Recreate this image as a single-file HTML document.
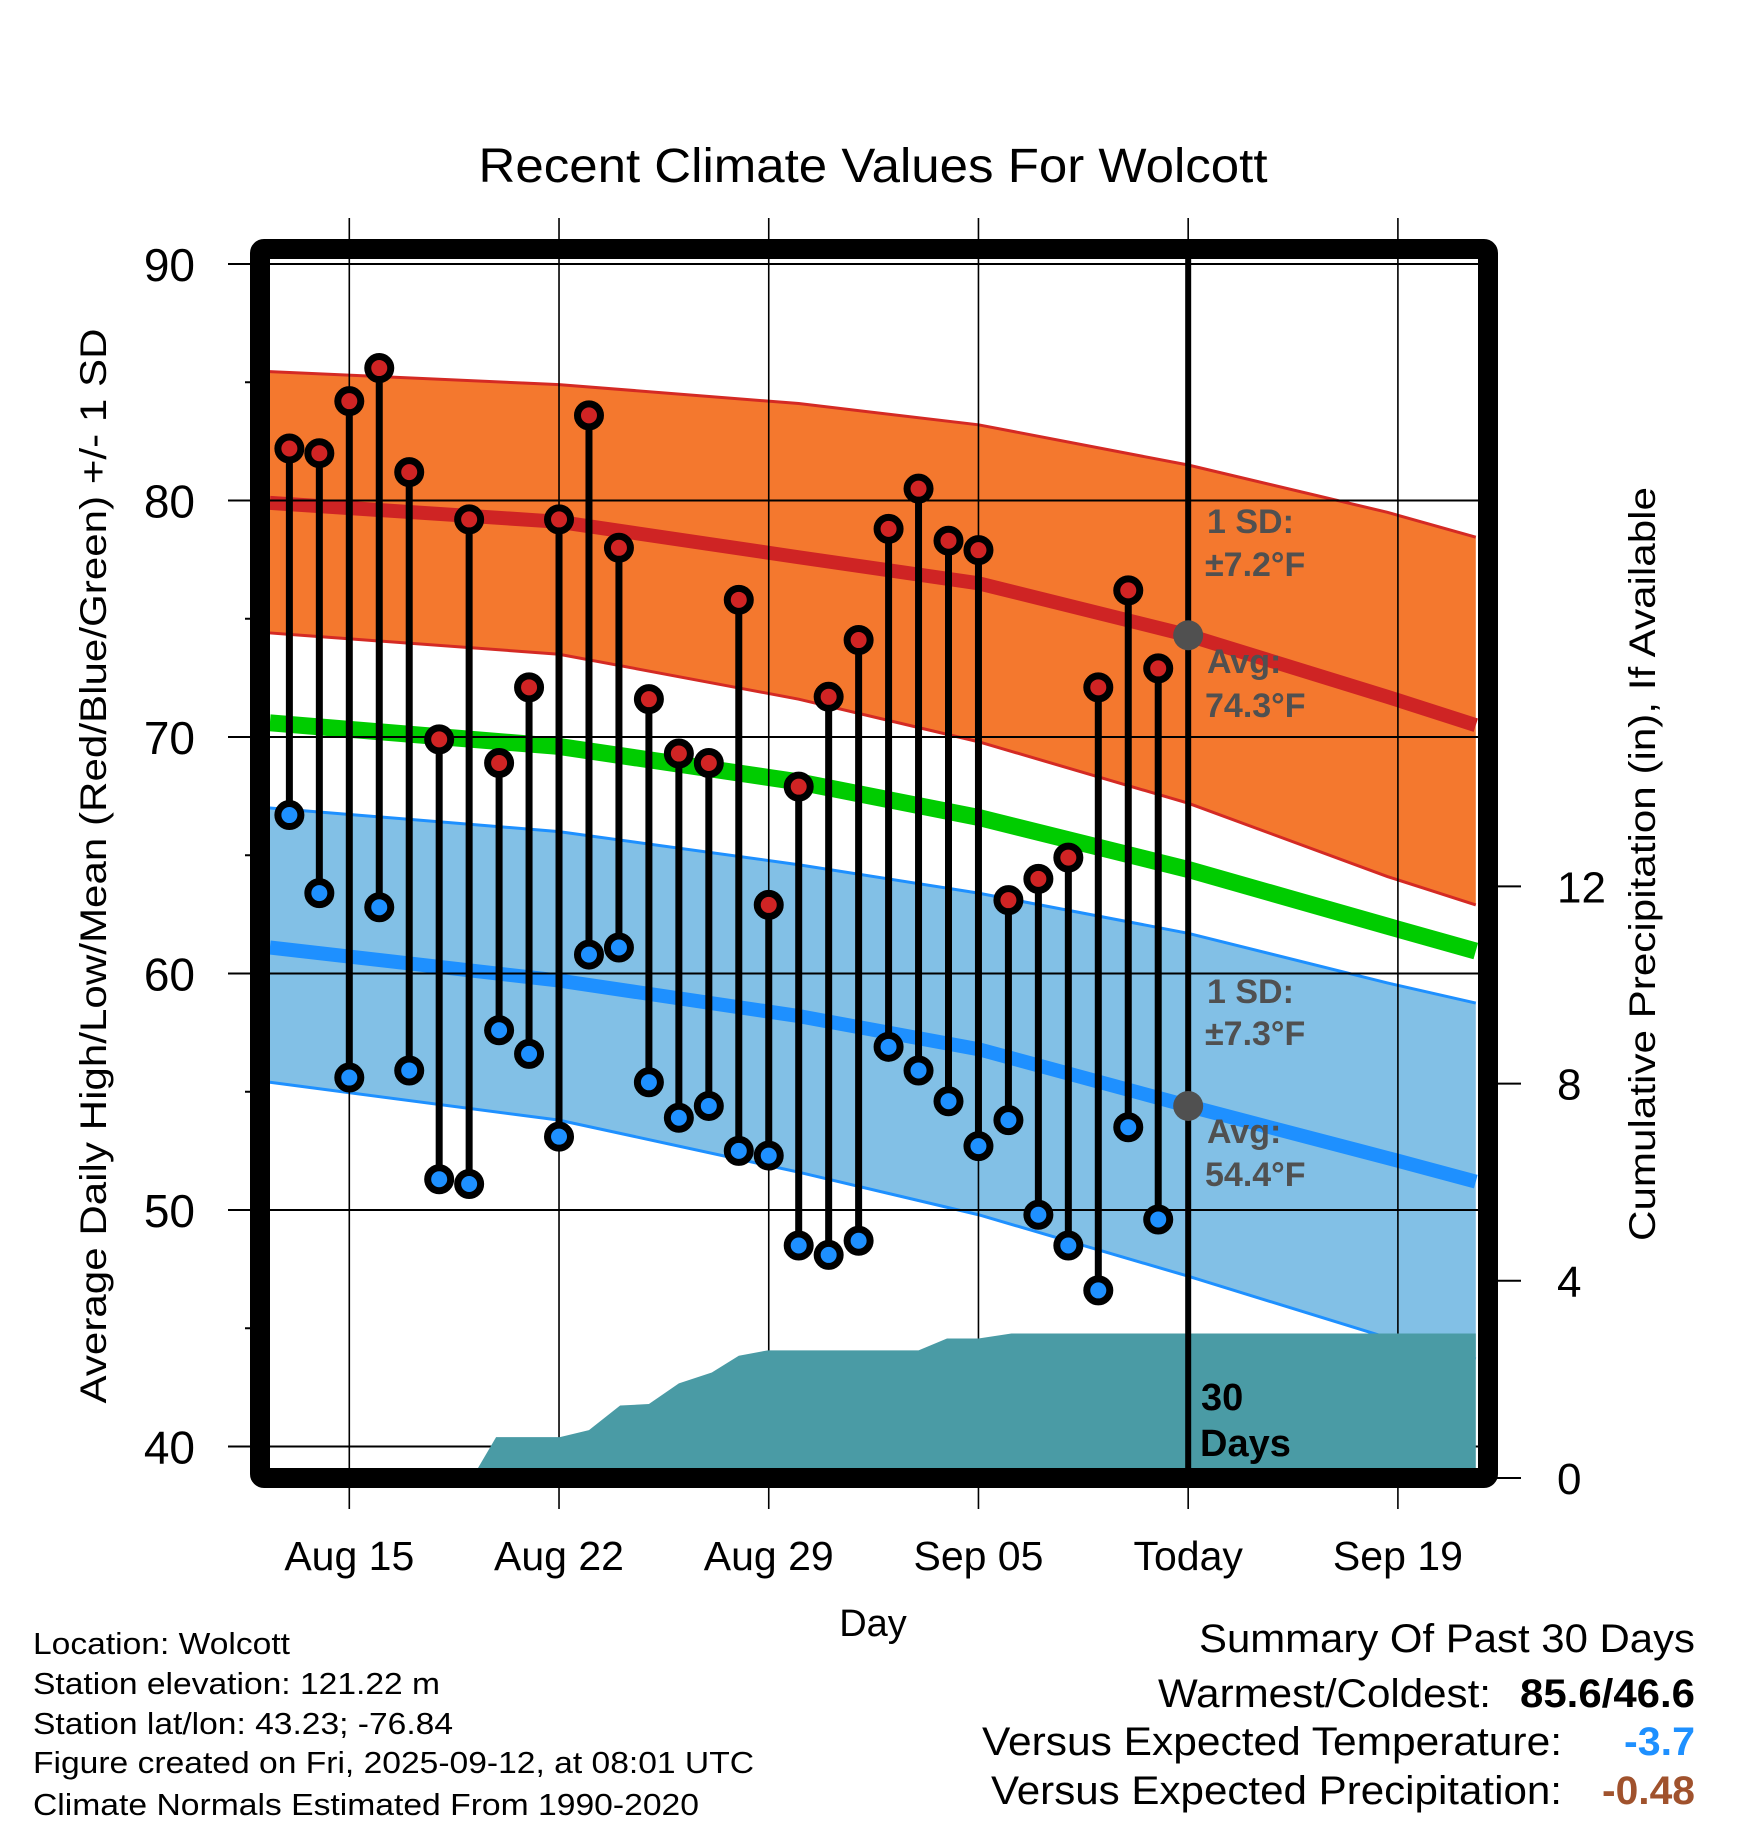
<!DOCTYPE html>
<html><head><meta charset="utf-8"><style>
html,body{margin:0;padding:0;background:#fff}
svg{display:block}
text{font-family:"Liberation Sans",Arial,sans-serif}
</style></head><body>
<svg id="chart" width="1748" height="1828" viewBox="0 0 1748 1828" xmlns="http://www.w3.org/2000/svg">
<defs><clipPath id="plotclip"><rect x="260" y="249" width="1228" height="1229"/></clipPath></defs>
<text x="873" y="182" font-size="48" text-anchor="middle" textLength="789" lengthAdjust="spacingAndGlyphs">Recent Climate Values For Wolcott</text>
<g id="bg" clip-path="url(#plotclip)"></g>
<g id="grid"></g>
<g id="fg" clip-path="url(#plotclip)"></g>
<g id="marks"></g>
<rect x="260" y="249" width="1228" height="1229" fill="none" stroke="#000" stroke-width="20" rx="4"/>
<g id="axes"></g>
<g fill="#505050" font-weight="bold" font-size="34">
<text x="1207" y="533">1 SD:</text>
<text x="1205" y="576">±7.2°F</text>
<text x="1207" y="673">Avg:</text>
<text x="1205" y="717">74.3°F</text>
<text x="1207" y="1003">1 SD:</text>
<text x="1205" y="1045">±7.3°F</text>
<text x="1207" y="1143">Avg:</text>
<text x="1205" y="1186">54.4°F</text>
</g>
<g font-weight="bold" font-size="38" fill="#000">
<text x="1201" y="1410">30</text><text x="1200" y="1456">Days</text>
</g>
<text transform="translate(106,866) rotate(-90)" font-size="37" text-anchor="middle" textLength="1075" lengthAdjust="spacingAndGlyphs">Average Daily High/Low/Mean (Red/Blue/Green) +/- 1 SD</text>
<text transform="translate(1655,864) rotate(-90)" font-size="37" text-anchor="middle" textLength="754" lengthAdjust="spacingAndGlyphs">Cumulative Precipitation (in), If Available</text>
<text x="873" y="1636" font-size="38" text-anchor="middle">Day</text>
<g font-size="31">
<text x="33" y="1654" textLength="257" lengthAdjust="spacingAndGlyphs">Location: Wolcott</text>
<text x="33" y="1694" textLength="407" lengthAdjust="spacingAndGlyphs">Station elevation: 121.22 m</text>
<text x="33" y="1734" textLength="420" lengthAdjust="spacingAndGlyphs">Station lat/lon: 43.23; -76.84</text>
<text x="33" y="1773" textLength="721" lengthAdjust="spacingAndGlyphs">Figure created on Fri, 2025-09-12, at 08:01 UTC</text>
<text x="33" y="1815" textLength="666" lengthAdjust="spacingAndGlyphs">Climate Normals Estimated From 1990-2020</text>
</g>
<g font-size="40">
<text x="1199" y="1652" textLength="496" lengthAdjust="spacingAndGlyphs">Summary Of Past 30 Days</text>
<text x="1158" y="1707" textLength="333" lengthAdjust="spacingAndGlyphs">Warmest/Coldest:</text>
<text x="1520" y="1707" font-weight="bold" textLength="175" lengthAdjust="spacingAndGlyphs">85.6/46.6</text>
<text x="982" y="1755" textLength="580" lengthAdjust="spacingAndGlyphs">Versus Expected Temperature:</text>
<text x="1624" y="1755" font-weight="bold" fill="#1E90FF" textLength="71" lengthAdjust="spacingAndGlyphs">-3.7</text>
<text x="991" y="1804" textLength="571" lengthAdjust="spacingAndGlyphs">Versus Expected Precipitation:</text>
<text x="1602" y="1804" font-weight="bold" fill="#A0522D" textLength="93" lengthAdjust="spacingAndGlyphs">-0.48</text>
</g>
</svg>
<script>
// days relative to Aug 15
const obsDays = [-2,-1,0,1,2,3,4,5,6,7,8,9,10,11,12,13,14,15,16,17,18,19,20,21,22,23,24,25,26,27];
const highs = [82.2,82.0,84.2,85.6,81.2,69.9,79.2,68.9,72.1,79.2,83.6,78.0,71.6,69.3,68.9,75.8,62.9,67.9,71.7,74.1,78.8,80.5,78.3,77.9,63.1,64.0,64.9,72.1,76.2,72.9];
const lows = [66.7,63.4,55.6,62.8,55.9,51.3,51.1,57.6,56.6,53.1,60.8,61.1,55.4,53.9,54.4,52.5,52.3,48.5,48.1,48.7,56.9,55.9,54.6,52.7,53.8,49.8,48.5,46.6,53.5,49.6];
const normDays = [-2.65,7,15,21,28,34.65,37.6];
const highUpper = [85.45,84.9,84.1,83.2,81.5,79.5,78.45];
const highMean = [79.9,79.1,77.6,76.5,74.3,71.7,70.5];
const highLower = [74.4,73.5,71.6,69.8,67.2,64.1,62.9];
const meanLine = [70.6,69.6,68.1,66.6,64.4,62.0,60.95];
const lowUpper = [67.0,66.0,64.6,63.4,61.7,59.6,58.75];
const lowMean = [61.1,59.7,58.2,56.8,54.4,52.2,51.2];
const lowLower = [55.4,53.8,51.6,49.8,47.2,44.6,43.7];
const precipDays = [-2.65,4.1,4.9,7.03,8.0,9.04,10.0,11.0,12.1,13.0,13.97,19.0,19.95,21.0,22.1,37.6];
const precipVals = [0,0,0.83,0.83,0.97,1.47,1.5,1.92,2.14,2.48,2.59,2.59,2.83,2.83,2.93,2.93];
const yTicks = [40,50,60,70,80,90];
const yMinor = [45,55,65,75,85];
const pTicks = [0,4,8,12];
const xTickDays = [0,7,14,21,28,35];
const xTickLabels = ["Aug 15","Aug 22","Aug 29","Sep 05","Today","Sep 19"];
const todayDay = 28;
const todayHigh = 74.3, todayLow = 54.4;

const NS="http://www.w3.org/2000/svg";
const X = d => 349.3 + d*29.96;
const Y = v => 264 + (90-v)*23.65;
const YP = p => 1478 - p*49.3;
function mk(tag, attrs, parent){const e=document.createElementNS(NS,tag);for(const k in attrs)e.setAttribute(k,attrs[k]);parent.appendChild(e);return e;}
const bg=document.getElementById('bg'), grid=document.getElementById('grid'), fg=document.getElementById('fg'), marks=document.getElementById('marks'), axes=document.getElementById('axes');
function band(up, lo, fill, edge, name){
  let d='M'+normDays.map((t,i)=>X(t)+','+Y(up[i])).join('L');
  d+='L'+normDays.slice().reverse().map((t,i)=>X(t)+','+Y(lo[lo.length-1-i])).join('L')+'Z';
  const p=mk('path',{d:d,fill:fill},bg);
  
  
  [up,lo].forEach(a=>{const l=mk('polyline',{points:normDays.map((t,i)=>X(t)+','+Y(a[i])).join(' '),fill:'none',stroke:edge,'stroke-width':3},bg);
    
    });
}
function line(a, col, w, name){
  const l=mk('polyline',{points:normDays.map((t,i)=>X(t)+','+Y(a[i])).join(' '),fill:'none',stroke:col,'stroke-width':w},bg);
  
  
}
band(highUpper, highLower, '#F4782E', '#D42A24', 'high-sd-band');
band(lowUpper, lowLower, '#82C0E6', '#1E90FF', 'low-sd-band');
line(highMean, '#CF2424', 14, 'high-mean-line');
line(meanLine, '#00CC00', 17, 'mean-line');
line(lowMean, '#1E90FF', 14, 'low-mean-line');
yTicks.forEach(v=>{const l=mk('line',{x1:228,x2:1480,y1:Y(v),y2:Y(v),stroke:'#000','stroke-width':2},grid);
  
  
  const t=mk('text',{x:195,y:Y(v)+17,'font-size':46,'text-anchor':'end'},axes);t.textContent=v;
  
  });
yMinor.forEach(v=>{const l=mk('line',{x1:245,x2:262,y1:Y(v),y2:Y(v),stroke:'#000','stroke-width':2},grid);
  
  });
xTickDays.forEach((d,i)=>{const l=mk('line',{x1:X(d),x2:X(d),y1:218,y2:1509,stroke:'#000','stroke-width':1.6},grid);
  
  
  const t=mk('text',{x:X(d),y:1570,'font-size':41,'text-anchor':'middle'},axes);t.textContent=xTickLabels[i];
  
  });
pTicks.forEach(p=>{const l=mk('line',{x1:1488,x2:1521,y1:YP(p),y2:YP(p),stroke:'#000','stroke-width':2},axes);
  
  
  const t=mk('text',{x:1557,y:YP(p)+16,'font-size':44},axes);t.textContent=p;
  
  });
let pd='M'+X(precipDays[0])+','+YP(0)+'L'+precipDays.map((t,i)=>X(t)+','+YP(precipVals[i])).join('L')+'L'+X(precipDays[precipDays.length-1])+','+YP(0)+'Z';
const pa=mk('path',{d:pd,fill:'#4A9BA5'},fg);


const tl=mk('line',{x1:X(todayDay),x2:X(todayDay),y1:255,y2:1478,stroke:'#000','stroke-width':6},fg);


[todayHigh,todayLow].forEach(v=>{const c=mk('circle',{cx:X(todayDay),cy:Y(v),r:15,fill:'#505050'},fg);
  
  });
obsDays.forEach((d,i)=>{
  const s=mk('line',{x1:X(d),x2:X(d),y1:Y(highs[i]),y2:Y(lows[i]),stroke:'#000','stroke-width':7},marks);
  
  
  const h=mk('circle',{cx:X(d),cy:Y(highs[i]),r:11.5,fill:'#D02424',stroke:'#000','stroke-width':7},marks);
  
  
  const l=mk('circle',{cx:X(d),cy:Y(lows[i]),r:11.5,fill:'#1E90FF',stroke:'#000','stroke-width':7},marks);
  
  
});
</script>
</body></html>
